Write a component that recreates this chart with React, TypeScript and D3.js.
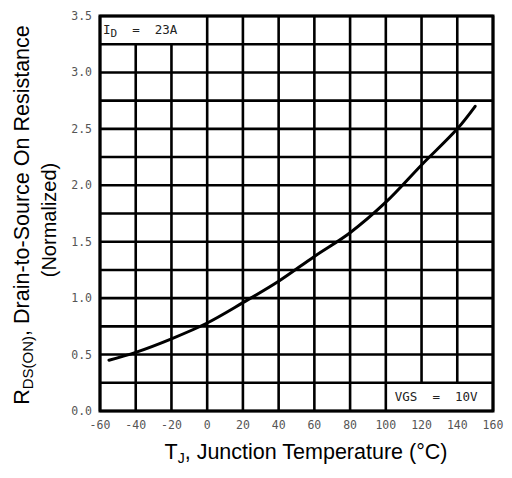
import React from "react";
import * as d3 from "d3";

const tempC = [-55, -40, -20, 0, 20, 40, 60, 80, 100, 120, 140, 150];
const rdsNorm = [0.45, 0.52, 0.64, 0.78, 0.96, 1.15, 1.37, 1.58, 1.85, 2.18, 2.5, 2.7];
const xTicks = [-60, -40, -20, 0, 20, 40, 60, 80, 100, 120, 140, 160];
const yTicks = [0, 0.5, 1.0, 1.5, 2.0, 2.5, 3.0, 3.5];
const yGrid = d3.range(0, 3.5001, 0.25);

const W = 512, H = 478;
const L = 100, R = 493, T = 16, B = 411;

export default function App() {
  const x = d3.scaleLinear().domain([-60, 160]).range([L, R]);
  const y = d3.scaleLinear().domain([0, 3.5]).range([B, T]);
  const line = d3
    .line<number>()
    .x((_, i) => x(tempC[i]))
    .y((d) => y(d))
    .curve(d3.curveCatmullRom.alpha(0.5));

  const mono = "DejaVu Sans Mono, monospace";
  const sans = "Liberation Sans, Arial, sans-serif";

  return (
    <svg width={W} height={H} style={{ position: "absolute", left: 0, top: 0, background: "#fff" }}>
      {/* horizontal grid */}
      {yGrid.map((v) => (
        <line key={"h" + v} x1={L} x2={R} y1={y(v)} y2={y(v)} stroke="#000" strokeWidth={2.6} />
      ))}
      {/* vertical grid */}
      {xTicks.map((t) => {
        let y1 = y(3.5), y2 = y(0);
        if (t === -40 || t === -20) y1 = y(3.25);
        if (t === 120 || t === 140) y2 = y(0.25);
        return <line key={"v" + t} x1={x(t)} x2={x(t)} y1={y1} y2={y2} stroke="#000" strokeWidth={2.6} />;
      })}
      <rect x={L} y={T} width={R - L} height={B - T} fill="none" stroke="#000" strokeWidth={3} />

      {/* curve */}
      <path d={line(rdsNorm) || ""} fill="none" stroke="#000" strokeWidth={3} strokeLinecap="round" />

      {/* box labels */}
      <text x={x(-60) + 3} y={y(3.375) + 4} fontFamily={mono} fontSize={12.5} fill="#222" style={{ whiteSpace: "pre" }}>
        I<tspan fontSize={11} dy={3}>D</tspan>
        <tspan dy={-3}>{"  =  23A"}</tspan>
      </text>
      <text x={x(100) + 9} y={y(0.125) + 4} fontFamily={mono} fontSize={12.5} fill="#222" style={{ whiteSpace: "pre" }}>
        {"VGS  =  10V"}
      </text>

      {/* y tick labels */}
      {yTicks.map((v) => (
        <text key={"yt" + v} x={L - 8} y={y(v) + 4} textAnchor="end" fontFamily={mono} fontSize={11.5} fill="#555">
          {v.toFixed(1)}
        </text>
      ))}
      {/* x tick labels */}
      {xTicks.map((t) => (
        <text key={"xt" + t} x={x(t)} y={B + 18} textAnchor="middle" fontFamily={mono} fontSize={11.5} fill="#555">
          {t}
        </text>
      ))}

      {/* axis titles */}
      <text x={306} y={459} textAnchor="middle" fontFamily={sans} fontSize={21.5} fill="#000">
        T<tspan fontSize={14} dy={4}>J</tspan>
        <tspan dy={-4}>, Junction Temperature (°C)</tspan>
      </text>
      <g transform={`translate(29, 215) rotate(-90)`}>
        <text x={0} y={0} textAnchor="middle" fontFamily={sans} fontSize={21.5} fill="#000">
          R<tspan fontSize={15} dy={4}>DS(ON)</tspan>
          <tspan dy={-4}>, Drain-to-Source On Resistance</tspan>
        </text>
      </g>
      <g transform={`translate(56, 220) rotate(-90)`}>
        <text x={0} y={0} textAnchor="middle" fontFamily={sans} fontSize={20} fill="#000">
          (Normalized)
        </text>
      </g>
    </svg>
  );
}
